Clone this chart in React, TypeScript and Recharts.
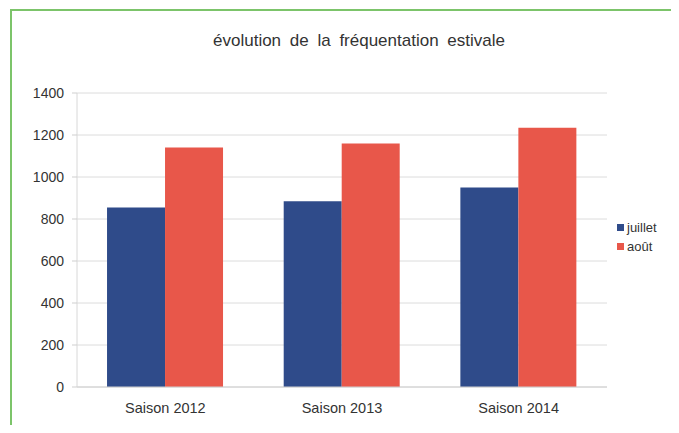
import { BarChart, Bar, XAxis, YAxis, CartesianGrid, Legend } from "recharts";

const seasons = ["Saison 2012", "Saison 2013", "Saison 2014"];
const juillet = [855, 885, 950];
const aout = [1140, 1160, 1235];
const yTicks = [0, 200, 400, 600, 800, 1000, 1200, 1400];
const legendOrder = ["juillet", "août"];

const data = seasons.map((s, i) => ({ name: s, juillet: juillet[i], aout: aout[i] }));

const FONT = "'Liberation Sans', Arial, sans-serif";

const LegendBox = ({ payload }: any) => {
  const items = [...(payload || [])].sort(
    (a: any, b: any) => legendOrder.indexOf(a.value) - legendOrder.indexOf(b.value)
  );
  return (
    <div style={{ fontFamily: FONT, fontSize: 13, color: "#333" }}>
      {items.map((p: any) => (
        <div key={p.value} style={{ display: "flex", alignItems: "center", height: 19 }}>
          <span style={{ width: 7, height: 7, background: p.color, marginRight: 3, display: "inline-block" }} />
          {p.value}
        </div>
      ))}
    </div>
  );
};

export default function App() {
  return (
    <div style={{ position: "relative", width: 679, height: 433, margin: -8, background: "#fff", overflow: "hidden" }}>
      <div
        style={{
          position: "absolute",
          left: 10,
          top: 9,
          width: 666,
          height: 420,
          borderLeft: "2px solid #7cc46a",
          borderTop: "2px solid #7cc46a",
          borderRight: "1px solid #eef2e8",
          borderBottom: "1px solid #f4f1dc",
        }}
      />
      <div
        style={{
          position: "absolute",
          left: 0,
          width: 718,
          top: 31,
          textAlign: "center",
          fontFamily: FONT,
          fontSize: 17,
          color: "#333",
          wordSpacing: 4,
        }}
      >
        évolution de la fréquentation estivale
      </div>
      <div style={{ position: "absolute", left: 0, top: 0 }}>
        <BarChart
          width={679}
          height={433}
          data={data}
          margin={{ top: 93, right: 10, bottom: 26, left: 27 }}
          barCategoryGap="17%"
          barGap={0}
        >
          <CartesianGrid vertical={false} stroke="#dcdcdc" />
          <XAxis
            dataKey="name"
            axisLine={{ stroke: "#d0d0d0" }}
            tickLine={false}
            tick={{ fill: "#333", fontSize: 14.5, fontFamily: FONT }}
            tickMargin={10}
            height={20}
          />
          <YAxis
            domain={[0, 1400]}
            ticks={yTicks}
            axisLine={{ stroke: "#d8d8d8" }}
            tickLine={{ stroke: "#cfcfcf" }}
            tickSize={5}
            tickMargin={8}
            width={50}
            tick={{ fill: "#333", fontSize: 14, fontFamily: FONT }}
          />
          <YAxis
            yAxisId="right"
            orientation="right"
            domain={[0, 1400]}
            tick={false}
            tickLine={false}
            axisLine={{ stroke: "#e2e2e2" }}
            width={0}
          />
          <Legend
            layout="vertical"
            align="right"
            verticalAlign="middle"
            content={<LegendBox />}
            wrapperStyle={{ width: 62, left: 617, top: 218 }}
          />
          <Bar dataKey="juillet" name="juillet" fill="#2f4b8a" isAnimationActive={false} />
          <Bar dataKey="aout" name="août" fill="#e8574a" isAnimationActive={false} />
        </BarChart>
      </div>
    </div>
  );
}
